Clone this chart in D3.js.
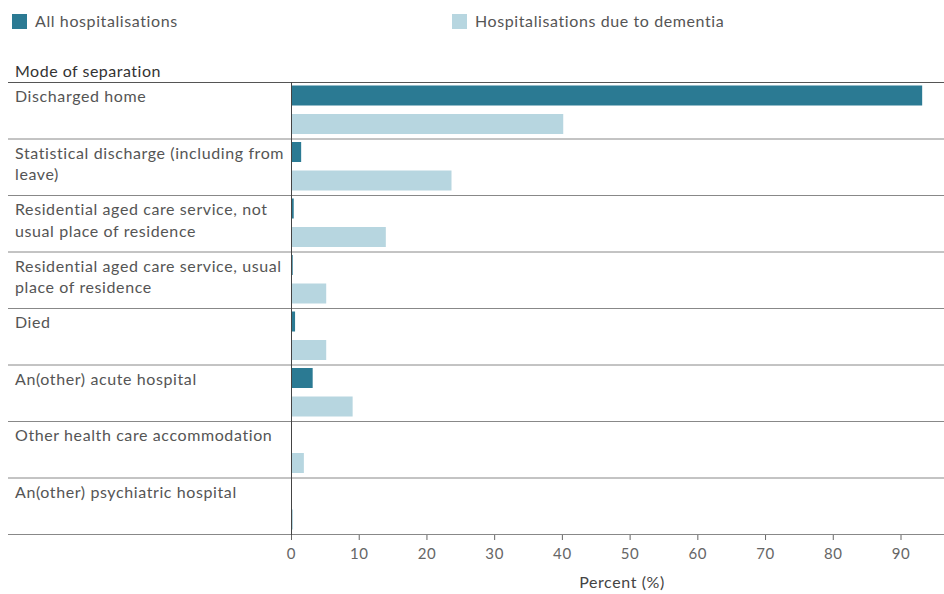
<!DOCTYPE html>
<html>
<head>
<meta charset="utf-8">
<script src="https://cdn.jsdelivr.net/npm/d3@7"></script>
<style>
body { margin: 0; background: #fff; }
text { font-family: "Lato", sans-serif; letter-spacing: 0.6px; }
</style>
</head>
<body>
<script>
var categories = [
	["Discharged home"],
	["Statistical discharge (including from", "leave)"],
	["Residential aged care service, not", "usual place of residence"],
	["Residential aged care service, usual", "place of residence"],
	["Died"],
	["An(other) acute hospital"],
	["Other health care accommodation"],
	["An(other) psychiatric hospital"]
];
var allHosp = [93.2, 1.5, 0.4, 0.25, 0.6, 3.2, 0, 0.05];
var dementiaHosp = [40.2, 23.7, 14.0, 5.2, 5.2, 9.1, 1.9, 0.3];
var seriesNames = ["All hospitalisations", "Hospitalisations due to dementia"];
var seriesColors = ["#2b7a93", "#b7d6e0"];
var xTicks = [0, 10, 20, 30, 40, 50, 60, 70, 80, 90];

var W = 944, H = 594;
var svg = d3.select("body").append("svg").attr("width", W).attr("height", H);

var x = d3.scaleLinear().domain([0, 90]).range([291, 900.5]);
var y = d3.scaleBand().domain(d3.range(categories.length)).range([82, 534]);

// legend
var legX = [12, 452];
seriesNames.forEach(function(n, i){
	svg.append("rect").attr("x", legX[i]).attr("y", 14).attr("width", 15).attr("height", 15).attr("fill", seriesColors[i]);
	svg.append("text").attr("x", legX[i] + 23).attr("y", 27).attr("font-size", 16).attr("fill", "#555").text(n);
});

svg.append("text").attr("x", 15).attr("y", 77).attr("font-size", 16).attr("fill", "#333")
	.style("letter-spacing", "0.5px").text("Mode of separation");

// row lines
var rows = svg.append("g");
rows.selectAll("line").data(d3.range(categories.length + 1)).enter().append("line")
	.attr("x1", 8).attr("x2", W)
	.attr("y1", function(d){ return d < categories.length ? y(d) + 0.5 : 534.5; })
	.attr("y2", function(d){ return d < categories.length ? y(d) + 0.5 : 534.5; })
	.attr("stroke", function(d){ return d == 0 ? "#555" : "#888"; })
	.attr("stroke-width", 1);

// category labels
var lab = svg.append("g").selectAll("text").data(categories).enter().append("text")
	.attr("x", 15).attr("y", function(d, i){ return y(i) + 20; })
	.attr("font-size", 16).attr("fill", "#555");
lab.selectAll("tspan").data(function(d){ return d; }).enter().append("tspan")
	.attr("x", 15).attr("dy", function(d, j){ return j == 0 ? 0 : 21.5; })
	.text(function(d){ return d; });

// bars
svg.append("g").selectAll("rect").data(allHosp).enter().append("rect")
	.attr("x", x(0)).attr("y", function(d, i){ return y(i) + 3.5; })
	.attr("width", function(d){ return x(d) - x(0); }).attr("height", 20)
	.attr("fill", seriesColors[0]);
svg.append("g").selectAll("rect").data(dementiaHosp).enter().append("rect")
	.attr("x", x(0)).attr("y", function(d, i){ return y(i) + 32; })
	.attr("width", function(d){ return x(d) - x(0); }).attr("height", 20)
	.attr("fill", seriesColors[1]);

// zero line
svg.append("line").attr("x1", x(0) + 0.5).attr("x2", x(0) + 0.5).attr("y1", 82).attr("y2", 540)
	.attr("stroke", "#444").attr("stroke-width", 1);

// axis
var axis = d3.axisBottom(x).tickValues(xTicks).tickSize(5).tickPadding(8);
var ax = svg.append("g").attr("transform", "translate(0,535)").call(axis);
ax.select(".domain").remove();
ax.selectAll(".tick line").attr("stroke", "#666");
ax.selectAll(".tick text").attr("font-size", 15).attr("fill", "#666").attr("font-family", "Lato, sans-serif");

svg.append("text").attr("x", 622).attr("y", 588).attr("text-anchor", "middle")
	.attr("font-size", 16).attr("fill", "#444").text("Percent (%)");
</script>
</body>
</html>
